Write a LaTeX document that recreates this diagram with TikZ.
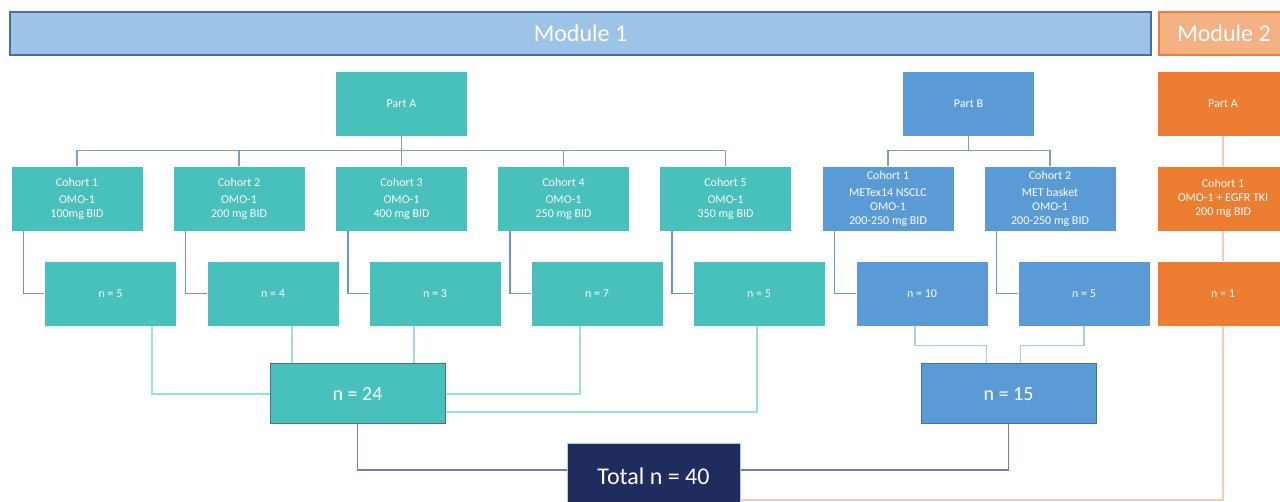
\documentclass[tikz,border=0pt]{standalone}
\usepackage{fontspec}
\setmainfont{Carlito}
\usepackage{tikz}
\usetikzlibrary{calc}

\definecolor{tealbox}{RGB}{72,192,188}
\definecolor{bluebox}{RGB}{91,155,213}
\definecolor{orangebox}{RGB}{237,125,49}
\definecolor{navybox}{RGB}{32,43,94}
\definecolor{modblue}{RGB}{157,195,230}
\definecolor{modorange}{RGB}{244,177,131}
\definecolor{edgeblue}{RGB}{65,113,156}
\definecolor{treeline}{RGB}{118,160,202}
\definecolor{linkblue}{RGB}{104,150,206}
\definecolor{linkteal}{RGB}{160,220,224}
\definecolor{linklight}{RGB}{170,205,236}
\definecolor{linknavy}{RGB}{112,126,170}
\definecolor{linkorange}{RGB}{249,203,172}

\tikzset{
  box/.style={draw=white, line width=0.8pt, text=white, align=center, inner sep=0pt,
    minimum width=132pt, minimum height=65pt, font=\fontsize{12}{14}\selectfont},
  sumbox/.style={draw=edgeblue, line width=1pt, text=white, inner sep=0pt,
    minimum width=175pt, minimum height=60pt, font=\fontsize{20}{24}\selectfont},
  modbar/.style={line width=1.2pt, text=white, inner sep=0pt,
    minimum height=43pt, font=\fontsize{24}{28}\selectfont},
  tree/.style={draw=treeline, line width=1.6pt},
  cohortlink/.style={draw=linkblue, line width=1.6pt},
  sumlink/.style={draw=linkteal, line width=1.2pt},
  sumlinkb/.style={draw=linklight, line width=1.2pt},
  totlink/.style={draw=linknavy, line width=1.2pt},
  orlink/.style={draw=linkorange, line width=1.4pt},
}

\begin{document}
\begin{tikzpicture}[x=1pt,y=1pt,yscale=-1,xscale=1]
\useasboundingbox (0,0) rectangle (1280,502);
\clip (0,0) rectangle (1280,502);

%Shape: Module bars
\node[modbar, fill=modblue, draw=edgeblue, minimum width=1141pt] (mod1) at (580.5,33.5) {Module 1};
\node[modbar, fill=modorange, draw=orangebox, minimum width=130pt] (mod2) at (1224,33.5) {Module 2};

%Shape: Parts
\node[box, fill=tealbox] (pA) at (401.5,103.5) {Part A};
\node[box, fill=bluebox] (pB) at (968.5,103.5) {Part B};
\node[box, fill=orangebox] (pA2) at (1223,103.5) {Part A};

%Shape: Cohorts
\node[box, fill=tealbox] (c1) at (77,198.5) {Cohort 1\\[3pt]OMO-1\\100mg BID};
\node[box, fill=tealbox] (c2) at (239,198.5) {Cohort 2\\[3pt]OMO-1\\200 mg BID};
\node[box, fill=tealbox] (c3) at (401.5,198.5) {Cohort 3\\[3pt]OMO-1\\400 mg BID};
\node[box, fill=tealbox] (c4) at (563.5,198.5) {Cohort 4\\[3pt]OMO-1\\250 mg BID};
\node[box, fill=tealbox] (c5) at (725.5,198.5) {Cohort 5\\[3pt]OMO-1\\350 mg BID};
\node[box, fill=bluebox] (c6) at (888,198.5) {Cohort 1\\[3pt]METex14 NSCLC\\OMO-1\\200-250 mg BID};
\node[box, fill=bluebox] (c7) at (1050,198.5) {Cohort 2\\[3pt]MET basket\\OMO-1\\200-250 mg BID};
\node[box, fill=orangebox] (c8) at (1223,198.5) {Cohort 1\\OMO-1 + EGFR TKI\\200 mg BID};

%Shape: Patient counts
\node[box, fill=tealbox] (n1) at (110.5,293.5) {n = 5};
\node[box, fill=tealbox] (n2) at (273,293.5) {n = 4};
\node[box, fill=tealbox] (n3) at (435,293.5) {n = 3};
\node[box, fill=tealbox] (n4) at (597,293.5) {n = 7};
\node[box, fill=tealbox] (n5) at (759,293.5) {n = 5};
\node[box, fill=bluebox] (n6) at (922,293.5) {n = 10};
\node[box, fill=bluebox] (n7) at (1084,293.5) {n = 5};
\node[box, fill=orangebox] (n8) at (1223,293.5) {n = 1};

%Shape: Sums
\node[sumbox, fill=tealbox] (n24) at (357.5,394) {n = 24};
\node[sumbox, fill=bluebox] (n15) at (1008.5,394) {n = 15};
\node[sumbox, fill=navybox, draw=linklight, minimum width=173pt, minimum height=64pt,
  font=\fontsize{24}{28}\selectfont] (tot) at (653.5,476) {Total n = 40};

%Straight Lines: tree of Part A and Part B
\foreach \c in {c1,c2,c3,c4,c5}
  \draw[tree] (pA.south) |- ($(\c.north)+(0,-15)$) -- (\c.north);
\foreach \c in {c6,c7}
  \draw[tree] (pB.south) |- ($(\c.north)+(0,-15)$) -- (\c.north);
\draw[orlink] (pA2.south) -- (c8.north);

%Straight Lines: cohort to count
\foreach \c/\n in {c1/n1,c2/n2,c3/n3,c4/n4,c5/n5,c6/n6,c7/n7}
  \draw[cohortlink] ($(\c.south west)+(13,0)$) |- (\n.west);
\draw[orlink] (c8.south) -- (n8.north);

%Straight Lines: counts to sums
\draw[sumlink] ($(n1.south)+(41.5,0)$) |- (n24.west);
\draw[sumlink] ($(n2.south)+(19,0)$) coordinate (s2) -- (s2 |- n24.north);
\draw[sumlink] ($(n3.south)+(-21,0)$) coordinate (s3) -- (s3 |- n24.north);
\draw[sumlink] ($(n4.south)+(-17,0)$) |- (n24.east);
\draw[sumlink] ($(n5.south)+(-2,0)$) |- ($(n24.east)+(0,18)$);
\draw[sumlinkb] ($(n6.south)+(-7,0)$) |- ($(n15.north)+(-22,-18)$) -- ($(n15.north)+(-22,0)$);
\draw[sumlinkb] (n7.south) |- ($(n15.north)+(12,-18)$) -- ($(n15.north)+(12,0)$);

%Straight Lines: sums to total
\draw[totlink] (n24.south) |- ($(tot.west)+(0,-6)$);
\draw[totlink] (n15.south) |- ($(tot.east)+(0,-6)$);
\draw[orlink] (n8.south) |- ($(tot.east)+(0,24)$);

\end{tikzpicture}
\end{document}
